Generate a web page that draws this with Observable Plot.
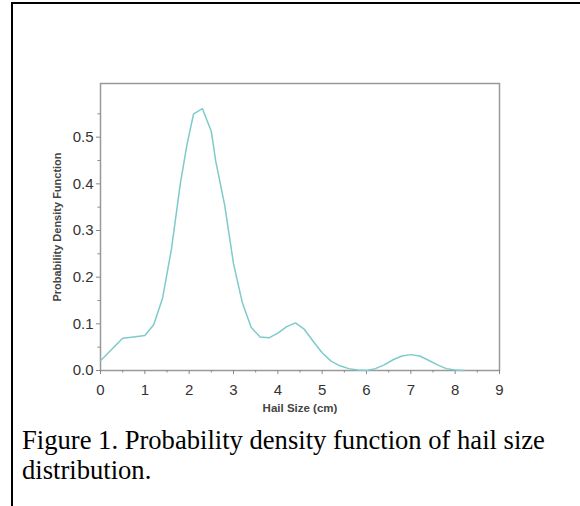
<!DOCTYPE html>
<html>
<head>
<meta charset="utf-8">
<script src="https://cdn.jsdelivr.net/npm/d3@7"></script>
<script src="https://cdn.jsdelivr.net/npm/@observablehq/plot@0.6"></script>
<style>
  html, body { margin: 0; padding: 0; background: #fff; width: 580px; height: 506px; overflow: hidden; }
  #box { position: absolute; left: 11px; top: 2px; width: 600px; height: 560px;
         border-left: 2px solid #000; border-top: 2px solid #000; }
  #chart { position: absolute; left: 0; top: 0; }
  #caption { position: absolute; left: 22px; top: 425px; width: 545px;
             font-family: "Liberation Serif", "Times New Roman", serif; font-size: 26.6px;
             line-height: 30px; color: #000; }
</style>
</head>
<body>
<div id="box"></div>
<div id="chart"></div>
<div id="caption">Figure 1. Probability density function of hail size distribution.</div>
<script>
const hailSize = [0, 0.25, 0.5, 0.75, 1.0, 1.2, 1.4, 1.6, 1.8, 1.95, 2.1, 2.3, 2.5, 2.6, 2.8, 3.0, 3.2, 3.4, 3.6, 3.8, 4.0, 4.2, 4.4, 4.6, 4.8, 5.0, 5.2, 5.4, 5.6, 5.8, 6.0, 6.2, 6.4, 6.6, 6.8, 7.0, 7.2, 7.4, 7.6, 7.8, 8.0, 8.2];
const density = [0.021, 0.045, 0.069, 0.072, 0.075, 0.098, 0.155, 0.26, 0.40, 0.484, 0.55, 0.561, 0.512, 0.448, 0.355, 0.229, 0.145, 0.092, 0.072, 0.070, 0.080, 0.094, 0.102, 0.088, 0.062, 0.038, 0.020, 0.010, 0.004, 0.001, 0.0, 0.004, 0.012, 0.023, 0.031, 0.034, 0.031, 0.022, 0.012, 0.004, 0.001, 0.0];
const xTicks = [0, 1, 2, 3, 4, 5, 6, 7, 8, 9];
const xMinor = [0.5, 1.5, 2.5, 3.5, 4.5, 5.5, 6.5, 7.5, 8.5];
const yTicks = [0, 0.1, 0.2, 0.3, 0.4, 0.5];
const yMinor = [0.05, 0.15, 0.25, 0.35, 0.45, 0.55];
const xLabel = "Hail Size (cm)";
const yLabel = "Probability Density Function";

const data = hailSize.map((x, i) => ({x, y: density[i]}));
const axisColor = "#888";
const textColor = "#333";

const chart = Plot.plot({
  width: 580,
  height: 420,
  marginLeft: 100,
  marginRight: 81,
  marginTop: 83,
  marginBottom: 50,
  style: { fontFamily: "Liberation Sans, Arial, sans-serif", background: "transparent", color: textColor },
  x: { domain: [0, 9] },
  y: { domain: [0, 0.615] },
  marks: [
    Plot.frame({ stroke: "#999", strokeWidth: 1.5 }),
    Plot.axisX(xTicks, { tickSize: 4, stroke: axisColor, text: null, label: null }),
    Plot.axisX(xMinor, { tickSize: 2.5, stroke: axisColor, text: null, label: null }),
    Plot.axisY(yTicks, { tickSize: 4, stroke: axisColor, text: null, label: null }),
    Plot.axisY(yMinor, { tickSize: 2.5, stroke: axisColor, text: null, label: null }),
    Plot.text(xTicks, { x: d => d, text: d => String(d), frameAnchor: "bottom", lineAnchor: "middle", dy: 20, fontSize: 15, fill: textColor }),
    Plot.text(yTicks, { y: d => d, text: d => d.toFixed(1), frameAnchor: "left", textAnchor: "end", dx: -7, fontSize: 15, fill: textColor }),
    Plot.text([xLabel], { frameAnchor: "bottom", lineAnchor: "middle", dy: 38, fontSize: 11.5, fontWeight: 600, fill: "#444" }),
    Plot.text([yLabel], { frameAnchor: "left", textAnchor: "middle", rotate: -90, dx: -43, fontSize: 11, fontWeight: 600, fill: "#444" }),
    Plot.line(data, { x: "x", y: "y", stroke: "#7fcaca", strokeWidth: 1.5 })
  ]
});
document.getElementById("chart").appendChild(chart);
</script>
</body>
</html>
